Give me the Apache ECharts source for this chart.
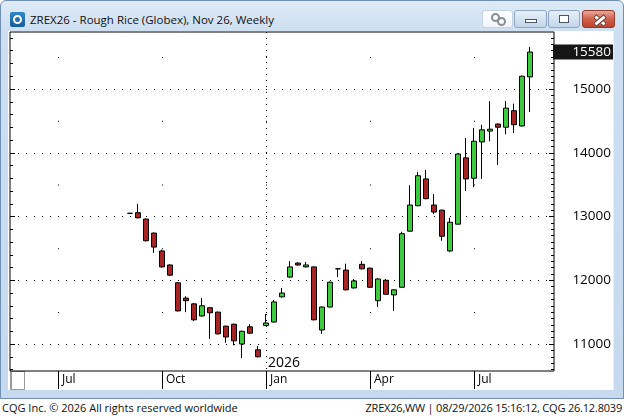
<!DOCTYPE html>
<html>
<head>
<meta charset="utf-8">
<script src="https://cdn.jsdelivr.net/npm/echarts@6/dist/echarts.min.js"></script>
<style>
  html, body { margin:0; padding:0; background:#fff; }
  #win { position:relative; width:624px; height:416px; overflow:hidden; background:#fff; font-family:"Open Sans","Noto Sans",sans-serif; }
  .abs { position:absolute; }
  #frame { left:0; top:0; width:622px; height:397px; border:1px solid #6f8fb3; border-radius:6px 6px 0 0;
           background:linear-gradient(#dfeaf6 0px, #cddff1 30px, #c6d9ee 100%); }
  #panel { left:8px; top:31px; width:605px; height:359px; background:#fff; border-right:1px solid #e6eef7; }
  #title { left:30px; top:12px; font-size:11.5px; color:#111; white-space:nowrap; }
  #icon { left:10px; top:12px; width:15px; height:15px; border-radius:2px; background:linear-gradient(#2e86c8,#145e9e); }
  #icon div { position:absolute; left:3px; top:3px; width:5px; height:5px; border:2px solid #fff; border-radius:50%; }
  .btn { top:10px; height:16px; border-radius:3px; }
  #bLink { left:482px; width:29px; background:linear-gradient(#ffffff,#f1f5fa); border:1px solid #c4d3e4; }
  #bMin { left:514px; width:31px; background:linear-gradient(#e8f0f9,#c3d5ea); border:1px solid #8ea7c5; }
  #bMax { left:548px; width:30px; background:linear-gradient(#e8f0f9,#c3d5ea); border:1px solid #8ea7c5; }
  #bClose { left:582px; width:31px; background:linear-gradient(#eca898,#d2614c 50%,#c1412c); border:1px solid #8d3b2c; }
  #bMin div { position:absolute; left:10px; top:8px; width:10px; height:2px; border:1px solid #4a5563; background:#fff; }
  #bMax div { position:absolute; left:10px; top:4px; width:8px; height:6px; border:1px solid #4a5563; background:#fff; }
  #bMax div div { left:2px; top:2px; width:2px; height:0px; border:1px solid #4a5563; }
  .xbar { position:absolute; left:10px; top:7px; width:12px; height:3px; background:#fff; border:1px solid #6b2a20; }
  .lk { position:absolute; width:5px; height:5px; border:2px solid #8a8f96; border-radius:50%; }
  #cornerBox { left:10px; top:371px; width:12px; height:17px; border:1px solid #9a9a9a; border-left:2px solid #9a9a9a; background:#fff; }
  #footL { left:2px; top:400px; font-size:11px; color:#111; white-space:nowrap; }
  #footR { right:2px; top:400px; font-size:11px; letter-spacing:-0.2px; color:#111; white-space:nowrap; }
  #chart { left:0; top:0; width:624px; height:416px; }
</style>
</head>
<body>
<div id="win">
  <div id="frame" class="abs"></div>
  <div id="icon" class="abs"><div></div></div>
  <div id="title" class="abs">ZREX26 - Rough Rice (Globex), Nov 26, Weekly</div>
  <div id="bLink" class="abs btn"><div class="lk" style="left:8px;top:2px"></div><div class="lk" style="left:14px;top:6px"></div></div>
  <div id="bMin" class="abs btn"><div></div></div>
  <div id="bMax" class="abs btn"><div></div></div>
  <div id="bClose" class="abs btn"><div class="xbar" style="transform:rotate(40deg)"></div><div class="xbar" style="transform:rotate(-40deg)"></div></div>
  <div id="panel" class="abs"></div>
  <div id="cornerBox" class="abs"></div>
  <div id="footL" class="abs">CQG Inc. © 2026 All rights reserved worldwide</div>
  <div id="footR" class="abs">ZREX26,WW | 08/29/2026 15:16:12, CQG 26.12.8039</div>
  <div id="chart" class="abs"></div>
</div>
<script>
// ---- data (weekly bars, dated by week start) ----
const weeks = [
  '2025-09-08','2025-09-15','2025-09-22','2025-09-29','2025-10-06','2025-10-13','2025-10-20','2025-10-27',
  '2025-11-03','2025-11-10','2025-11-17','2025-11-24','2025-12-01','2025-12-08','2025-12-15','2025-12-22','2025-12-29',
  '2026-01-05','2026-01-12','2026-01-19','2026-01-26','2026-02-02','2026-02-09','2026-02-16','2026-02-23',
  '2026-03-02','2026-03-09','2026-03-16','2026-03-23','2026-03-30','2026-04-06','2026-04-13','2026-04-20','2026-04-27',
  '2026-05-04','2026-05-11','2026-05-18','2026-05-25','2026-06-01','2026-06-08','2026-06-15','2026-06-22','2026-06-29',
  '2026-07-06','2026-07-13','2026-07-20','2026-07-27','2026-08-03','2026-08-10','2026-08-17','2026-08-24'
];
const openP  = [13050,13060,12960,12740,12460,12240,11960,11720,11630,11440,11570,11500,11280,11310,11000,11270,10910,
                11290,11345,11740,12050,12270,12210,12210,11220,11580,12180,12160,11880,12250,12190,11680,12000,11770,
                11890,12770,13170,13590,13180,13100,12460,12880,13920,13600,14170,14340,14450,14400,14660,14420,15190];
const closeP = [13050,12980,12620,12520,12210,12080,11520,11680,11380,11600,11490,11160,11110,11050,11200,11170,10800,
                11330,11660,11800,12210,12240,12240,11380,11580,11970,12180,11850,11990,12180,11890,12020,11780,11850,
                12730,13180,13640,13280,13070,12690,12910,13980,13590,14180,14360,14370,14400,14700,14440,15200,15580];
const lowP   = [13050,12970,12610,12430,12200,12070,11510,11500,11360,11430,11080,11150,11020,10980,10780,11160,10790,
                11280,11340,11730,12040,12230,12200,11370,11160,11575,12050,11840,11870,12170,11885,11580,11780,11520,
                11885,12765,13160,13270,13040,12620,12440,12875,13400,13460,13590,14180,13810,14290,14310,14410,14640];
const highP  = [13050,13200,12970,12750,12480,12250,11970,11750,11640,11720,11575,11510,11290,11320,11210,11310,10970,
                11470,11690,11880,12300,12280,12290,12215,11590,11980,12180,12260,12020,12300,12200,12030,12020,11855,
                12760,13490,13700,13730,13350,13110,12980,13990,14230,14390,14440,14810,14460,14810,14770,15210,15660];
// axis ticks / labels
const quarterTicks = ['2025-07-07','2025-10-06','2026-01-05','2026-04-06','2026-07-06'];
const yearTicks = ['2026-01-05'];
const priceTicks = [11000,12000,13000,14000,15000];
const monthNames = ['Jan','Feb','Mar','Apr','May','Jun','Jul','Aug','Sep','Oct','Nov','Dec'];

const ts = s => Date.parse(s + 'T00:00:00Z');
const xMin = ts('2025-05-26'), xMax = ts('2026-09-14');
const yMin = 10577, yMax = 15894;
const minorTicks = [];
for (let v = 10600; v <= 15800; v += 100) if (v % 1000) minorTicks.push(v);
const leftMinor = [];
for (let v = 10600; v <= 15800; v += 200) if (v % 1000) leftMinor.push(v);

const candles = weeks.map((w, i) => [ts(w), openP[i], closeP[i], lowP[i], highP[i]]);
const lastClose = closeP[closeP.length - 1];

const FONT = '"Open Sans","Noto Sans",sans-serif';
const qt = quarterTicks.map(ts), yt = yearTicks.map(ts);

const baseY = (extra) => Object.assign({
  type: 'value', min: yMin, max: yMax, gridIndex: 0,
  axisLine: { show: false }, splitLine: { show: false },
  axisTick: { show: false }, axisLabel: { show: false }
}, extra);

const chart = echarts.init(document.getElementById('chart'), null, { renderer: 'canvas' });
chart.setOption({
  animation: false,
  backgroundColor: 'transparent',
  textStyle: { fontFamily: FONT },
  grid: { left: 10, top: 32, width: 544, height: 339, show: true, borderColor: '#000', borderWidth: 1, backgroundColor: 'transparent' },
  xAxis: [
    {
      type: 'value', min: xMin, max: xMax, position: 'bottom',
      axisLine: { show: false },
      axisTick: { show: true, customValues: qt, length: 18, lineStyle: { color: '#000', width: 1 } },
      axisLabel: {
        customValues: qt, margin: 3, align: 'left', padding: [0, 0, 0, 4],
        color: '#000', fontSize: 12, fontFamily: FONT,
        formatter: v => monthNames[new Date(v).getUTCMonth()]
      },
      splitLine: { show: true, lineStyle: { color: '#000', width: 1, type: [1, 62.75], dashOffset: 38.75 } }
    },
    {
      type: 'value', min: xMin, max: xMax, position: 'bottom',
      axisLine: { show: false },
      axisTick: { show: false, customValues: yt },
      axisLabel: {
        inside: true, customValues: yt, margin: 1, align: 'left', padding: [0, 0, 0, 2],
        color: '#000', fontSize: 14, fontFamily: FONT,
        formatter: v => String(new Date(v).getUTCFullYear())
      },
      splitLine: { show: true, lineStyle: { color: '#000', width: 1, type: [1, 5] } }
    }
  ],
  yAxis: [
    baseY({
      position: 'right',
      axisTick: { show: true, inside: true, length: 5, customValues: priceTicks, lineStyle: { color: '#000' } },
      axisLabel: { show: true, customValues: priceTicks, align: 'right', margin: 57, color: '#000', fontSize: 13.5, fontFamily: FONT, formatter: v => String(v) },
      splitLine: { show: true, lineStyle: { color: '#000', width: 1, type: [1, 7] } }
    }),
    baseY({ position: 'right', axisTick: { show: true, inside: true, length: 3, customValues: minorTicks, lineStyle: { color: '#000' } } }),
    baseY({ position: 'left', axisTick: { show: true, inside: true, length: 5, customValues: priceTicks, lineStyle: { color: '#000' } } }),
    baseY({ position: 'left', axisTick: { show: true, inside: true, length: 3, customValues: leftMinor, lineStyle: { color: '#000' } } }),
    baseY({
      position: 'right',
      axisLabel: {
        show: true, customValues: [lastClose], align: 'right', margin: 59,
        color: '#fff', backgroundColor: '#161616', padding: [1, 2, 0, 4], width: 54,
        fontSize: 13.5, fontFamily: FONT, formatter: v => String(v)
      }
    })
  ],
  series: [{
    type: 'candlestick',
    xAxisIndex: 0, yAxisIndex: 0,
    barWidth: 5,
    data: candles,
    itemStyle: {
      color: '#3ccb3c', color0: '#a82424',
      borderColor: '#000', borderColor0: '#000', borderColorDoji: '#000', borderWidth: 1
    }
  }]
});
</script>
</body>
</html>
